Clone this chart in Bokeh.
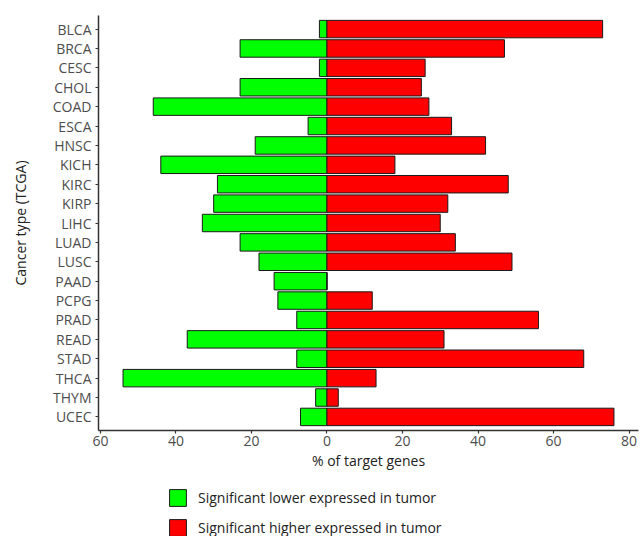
from bokeh.plotting import figure
from bokeh.layouts import column
from bokeh.models import FactorRange, Range1d, FixedTicker, Legend, LegendItem, ColumnDataSource
from bokeh.embed import file_html
from bokeh.resources import INLINE

# Share of target genes per TCGA cancer type
cancers = ["BLCA", "BRCA", "CESC", "CHOL", "COAD", "ESCA", "HNSC", "KICH", "KIRC", "KIRP",
           "LIHC", "LUAD", "LUSC", "PAAD", "PCPG", "PRAD", "READ", "STAD", "THCA", "THYM", "UCEC"]
lower_pct = [-2, -23, -2, -23, -46, -5, -19, -44, -29, -30,
             -33, -23, -18, -14, -13, -8, -37, -8, -54, -3, -7]
higher_pct = [73, 47, 26, 25, 27, 33, 42, 18, 48, 32,
              30, 34, 49, 0, 12, 56, 31, 68, 13, 3, 76]

x_ticks = [-60, -40, -20, 0, 20, 40, 60, 80]
x_tick_labels = ["60", "40", "20", "0", "20", "40", "60", "80"]

lower_label = "Significant lower expressed in tumor"
higher_label = "Significant higher expressed in tumor"

FONT = "Open Sans"
GREEN = "#00ff00"
RED = "#ff0000"
EDGE = "#1a1a1a"

src = ColumnDataSource(dict(cancer=cancers, lower=lower_pct, higher=higher_pct,
                            zero=[0] * len(cancers)))

p = figure(
    y_range=FactorRange(factors=list(reversed(cancers)), range_padding=0.2,
                        range_padding_units="absolute"),
    x_range=Range1d(-60.5, 82.5),
    width=640, height=480,
    min_border_left=98, min_border_right=2, min_border_top=15, min_border_bottom=50,
    output_backend="svg", toolbar_location=None,
)
p.outline_line_color = None
p.xgrid.visible = False
p.ygrid.visible = False
p.background_fill_color = "white"
p.border_fill_color = "white"

p.hbar(y="cancer", left="lower", right="zero", height=0.9, source=src,
       fill_color=GREEN, line_color=EDGE, line_width=1)
p.hbar(y="cancer", left="zero", right="higher", height=0.9, source=src,
       fill_color=RED, line_color=EDGE, line_width=1)

# Axes
p.xaxis.ticker = FixedTicker(ticks=x_ticks)
p.xaxis.major_label_overrides = {t: s for t, s in zip(x_ticks, x_tick_labels)}
p.xaxis.axis_label = "% of target genes"
p.yaxis.axis_label = "Cancer type (TCGA)"

for ax in (p.xaxis[0], p.yaxis[0]):
    ax.axis_line_color = "#333333"
    ax.axis_line_width = 1.5
    ax.major_tick_line_color = "#333333"
    ax.major_tick_line_width = 1.2
    ax.major_tick_out = 3
    ax.major_tick_in = 0
    ax.minor_tick_line_color = None
    ax.major_label_text_font = FONT
    ax.major_label_text_font_size = "14px"
    ax.major_label_text_color = "#4d4d4d"
    ax.axis_label_text_font = FONT
    ax.axis_label_text_font_size = "14px"
    ax.axis_label_text_font_style = "normal"
    ax.axis_label_text_color = "#222222"

p.yaxis.major_label_standoff = 4
p.yaxis.axis_label_standoff = 20
p.xaxis.major_label_standoff = 2
p.xaxis.axis_label_standoff = 2

# Legend strip under the chart; the swatch renderers stay muted (fully transparent)
# so only their legend glyphs show
key = figure(width=640, height=56, x_range=Range1d(0, 1), y_range=Range1d(0, 1),
             x_axis_location=None, y_axis_location=None,
             min_border_left=98, min_border_right=2, min_border_top=0, min_border_bottom=0,
             output_backend="svg", toolbar_location=None)
key.outline_line_color = None
key.xgrid.visible = False
key.ygrid.visible = False
key.background_fill_color = "white"
key.border_fill_color = "white"
swatch = ColumnDataSource(dict(y=[0.5], left=[0], right=[1]))
k_low = key.hbar(y="y", left="left", right="right", height=1, source=swatch,
                 fill_color=GREEN, line_color=EDGE, line_width=1,
                 muted_fill_alpha=0, muted_line_alpha=0)
k_high = key.hbar(y="y", left="left", right="right", height=1, source=swatch,
                  fill_color=RED, line_color=EDGE, line_width=1,
                  muted_fill_alpha=0, muted_line_alpha=0)
k_low.muted = True
k_high.muted = True

legend = Legend(
    items=[LegendItem(label=lower_label, renderers=[k_low]),
           LegendItem(label=higher_label, renderers=[k_high])],
    location=(69, -2),
    orientation="vertical",
    click_policy="none",
    glyph_width=21, glyph_height=21, spacing=9, label_standoff=10,
    padding=0, margin=0,
    border_line_color=None, background_fill_alpha=0,
    label_text_font=FONT, label_text_font_size="14px", label_text_color="#222222",
)
key.add_layout(legend, "center")

page = column(p, key, spacing=0)
open("out.html", "w").write(file_html(page, INLINE))
